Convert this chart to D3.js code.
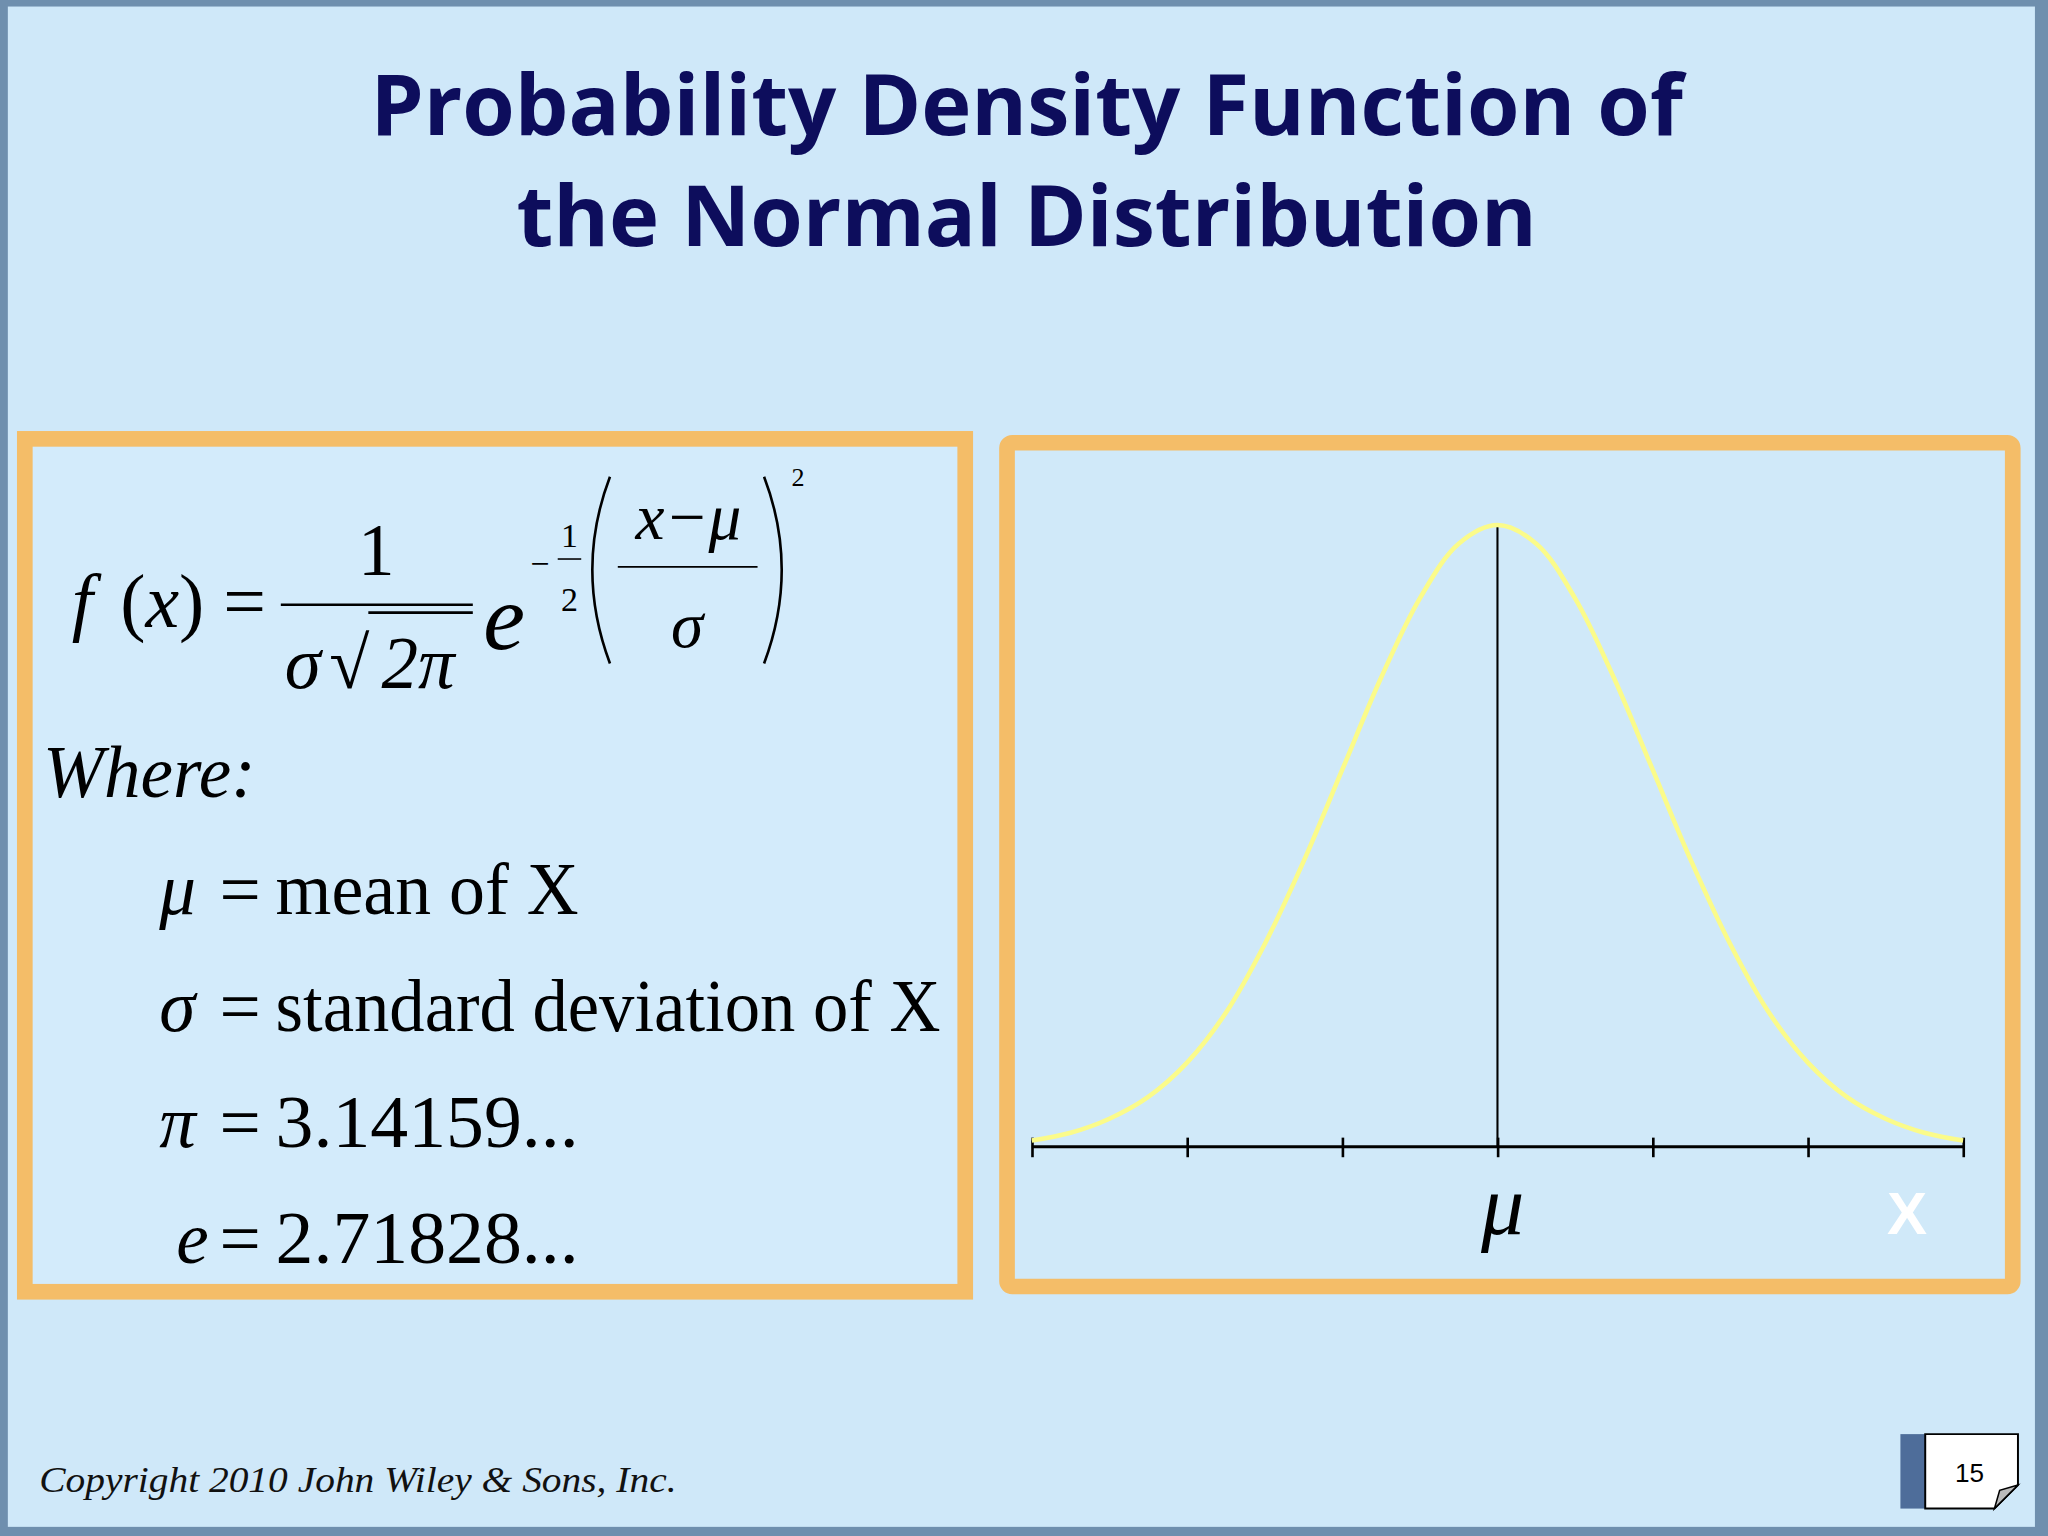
<!DOCTYPE html>
<html><head><meta charset="utf-8">
<script src="https://cdn.jsdelivr.net/npm/d3@7"></script>
<style>body{margin:0;background:#5a7fa0}svg{display:block}</style>
</head><body>
<svg id="chart" width="2048" height="1536" viewBox="0 0 1568 1176"></svg>
<script>
// values (x in units of sigma from the mean)
const xs=[-3,-2.75,-2.5,-2.25,-2,-1.75,-1.5,-1.25,-1,-0.75,-0.5,-0.25,0,0.25,0.5,0.75,1,1.25,1.5,1.75,2,2.25,2.5,2.75,3];
const dens=[0.004,0.009,0.018,0.032,0.054,0.086,0.130,0.183,0.242,0.301,0.352,0.387,0.399,0.387,0.352,0.301,0.242,0.183,0.130,0.086,0.054,0.032,0.018,0.009,0.004];
const tickVals=[-3,-2,-1,0,1,2,3];
const titleLines=["Probability Density Function of","the Normal Distribution"];
const defs=[["μ","mean of X"],["σ","standard deviation of X"],["π","3.14159..."],["e","2.71828..."]];
const defWidths=[232,509,232,232];

const svg=d3.select("#chart");
const serif="'Liberation Serif','DejaVu Serif',serif";

// slide background + frame
svg.append("rect").attr("width",1568).attr("height",1176).attr("fill","#6f8fae");
svg.append("rect").attr("x",6).attr("y",5).attr("width",1552).attr("height",1164).attr("fill","#cfe8f9");

svg.selectAll(".title").data(titleLines).enter().append("text")
  .attr("x",786).attr("y",(d,i)=>103+i*85).attr("text-anchor","middle")
  .attr("font-family","'Open Sans',Lato,sans-serif").attr("font-weight",700)
  .attr("font-size",65).attr("fill","#0d0d5c").text(d=>d);

// boxes
svg.append("rect").attr("x",19).attr("y",336).attr("width",720).attr("height",653)
  .attr("fill","#d3ebfb").attr("stroke","#f4bd68").attr("stroke-width",12);
svg.append("rect").attr("x",771).attr("y",339).attr("width",770).attr("height",646).attr("rx",4)
  .attr("fill","#d0e9f9").attr("stroke","#f4bd68").attr("stroke-width",12);

// formula
const f=svg.append("g").attr("font-family",serif).attr("fill","#000");
f.append("text").attr("x",55).attr("y",480).attr("font-size",58).attr("font-style","italic").text("f");
f.append("text").attr("x",92).attr("y",480).attr("font-size",58).html('(<tspan font-style="italic">x</tspan>) =');
f.append("text").attr("x",288).attr("y",440).attr("font-size",56).attr("text-anchor","middle").text("1");
f.append("line").attr("x1",215).attr("x2",362).attr("y1",463).attr("y2",463).attr("stroke","#000").attr("stroke-width",2);
f.append("text").attr("x",218).attr("y",527).attr("font-size",56).attr("font-style","italic").text("σ");
f.append("text").attr("x",252).attr("y",527).attr("font-size",56).text("√");
f.append("text").attr("x",292).attr("y",527).attr("font-size",56).attr("font-style","italic").text("2π");
f.append("line").attr("x1",282).attr("x2",362).attr("y1",469).attr("y2",469).attr("stroke","#000").attr("stroke-width",2);
f.append("text").attr("x",370).attr("y",497).attr("font-size",72).attr("font-style","italic").text("e");
f.append("text").attr("x",406).attr("y",440).attr("font-size",26).text("−");
f.append("text").attr("x",436).attr("y",419).attr("font-size",26).attr("text-anchor","middle").text("1");
f.append("line").attr("x1",427).attr("x2",445).attr("y1",428).attr("y2",428).attr("stroke","#000").attr("stroke-width",1.2);
f.append("text").attr("x",436).attr("y",468).attr("font-size",26).attr("text-anchor","middle").text("2");
f.append("path").attr("d","M467,365 Q440,436 467,508").attr("fill","none").attr("stroke","#000").attr("stroke-width",2);
f.append("path").attr("d","M585,365 Q612,436 585,508").attr("fill","none").attr("stroke","#000").attr("stroke-width",2);
f.append("text").attr("x",527).attr("y",413).attr("font-size",50).attr("font-style","italic").attr("text-anchor","middle").text("x−μ");
f.append("line").attr("x1",473).attr("x2",580).attr("y1",434).attr("y2",434).attr("stroke","#000").attr("stroke-width",1.5);
f.append("text").attr("x",526).attr("y",495).attr("font-size",50).attr("font-style","italic").attr("text-anchor","middle").text("σ");
f.append("text").attr("x",611).attr("y",372).attr("font-size",20).attr("text-anchor","middle").text("2");

f.append("text").attr("x",33).attr("y",610).attr("font-size",56).attr("font-style","italic").text("Where:");
const rows=f.selectAll(".def").data(defs).enter().append("g").attr("transform",(d,i)=>`translate(0,${700+i*89})`);
rows.append("text").attr("x",(d,i)=>i==3?135:122).attr("y",0).attr("font-size",56).attr("font-style","italic").text(d=>d[0]);
rows.append("text").attr("x",168).attr("y",0).attr("font-size",56).text("=");
rows.append("text").attr("x",211).attr("y",0).attr("font-size",56)
  .attr("textLength",(d,i)=>defWidths[i]).attr("lengthAdjust","spacingAndGlyphs").text(d=>d[1]);

// normal curve
const x=d3.scaleLinear().domain([-3,3]).range([790,1503]);
const y=d3.scaleLinear().domain([0,0.399]).range([878,402]);
svg.append("line").attr("x1",x(0)).attr("x2",x(0)).attr("y1",y(0.399)).attr("y2",y(0)).attr("stroke","#000").attr("stroke-width",1.6);
const ax=svg.append("g").attr("transform",`translate(0,${y(0)})`)
  .call(d3.axisBottom(x).tickValues(tickVals).tickSize(7).tickFormat(""));
ax.select(".domain").attr("stroke","#000").attr("stroke-width",2.4).attr("d",`M${x(-3)},0H${x(3)}`);
ax.selectAll(".tick line").attr("y1",-7).attr("y2",8).attr("stroke","#000").attr("stroke-width",2);
svg.append("path").datum(xs.map((v,i)=>[v,dens[i]]))
  .attr("d",d3.line().x(d=>x(d[0])).y(d=>y(d[1])).curve(d3.curveCatmullRom))
  .attr("fill","none").attr("stroke","#fbfb8a").attr("stroke-width",3.5);
svg.append("text").attr("x",x(0)+4).attr("y",945).attr("text-anchor","middle").attr("font-family",serif)
  .attr("font-style","italic").attr("font-size",66).text("μ");
svg.append("text").attr("x",1460).attr("y",945).attr("text-anchor","middle").attr("font-family","'Liberation Sans',Arial,sans-serif")
  .attr("font-weight",700).attr("font-size",46).attr("fill","#fff").text("X");

// footer
svg.append("text").attr("x",30).attr("y",1142).attr("font-family",serif).attr("font-style","italic")
  .attr("font-size",27).attr("fill","#111").attr("textLength",488).attr("lengthAdjust","spacingAndGlyphs")
  .text("Copyright 2010 John Wiley & Sons, Inc.");
svg.append("rect").attr("x",1455).attr("y",1098).attr("width",19).attr("height",57).attr("fill","#4e6d9a");
svg.append("path").attr("d","M1474,1098H1545V1137L1527,1155H1474Z").attr("fill","#fff").attr("stroke","#000").attr("stroke-width",1.5);
svg.append("path").attr("d","M1545,1137L1531,1141L1527,1155Z").attr("fill","#bbb").attr("stroke","#000").attr("stroke-width",1.2);
svg.append("text").attr("x",1508).attr("y",1135).attr("text-anchor","middle").attr("font-family","'Liberation Sans',Arial,sans-serif")
  .attr("font-size",20).text("15");
</script>
</body></html>
